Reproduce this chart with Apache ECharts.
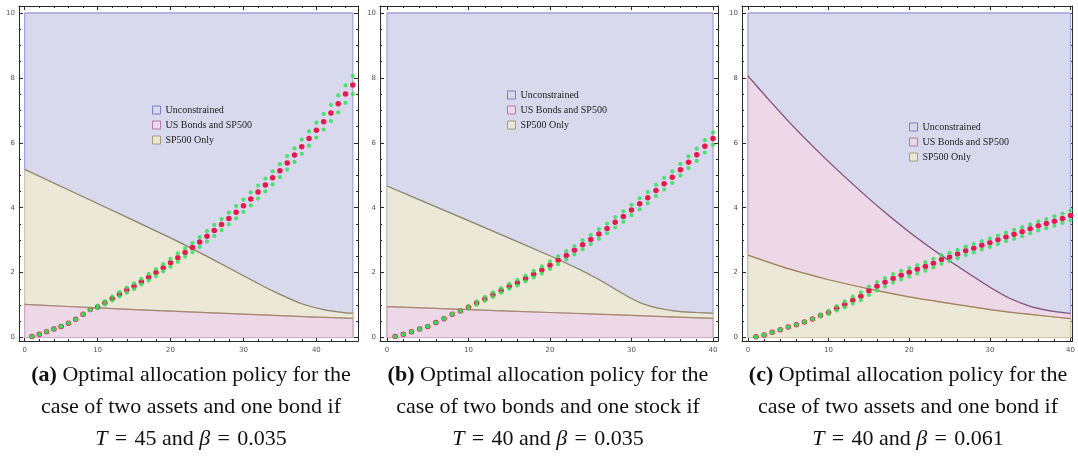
<!DOCTYPE html>
<html><head><meta charset="utf-8">
<script src="https://cdn.jsdelivr.net/npm/echarts@6/dist/echarts.min.js"></script>
<style>html,body{margin:0;padding:0;background:#fff}#c{width:1078px;height:459px}</style>
</head><body><div id="c"></div>
<script>
// ---------- data ----------
const yearsA = [1,2,3,4,5,6,7,8,9,10,11,12,13,14,15,16,17,18,19,20,21,22,23,24,25,26,27,28,29,30,31,32,33,34,35,36,37,38,39,40,41,42,43,44,45];
const yearsBC = [1,2,3,4,5,6,7,8,9,10,11,12,13,14,15,16,17,18,19,20,21,22,23,24,25,26,27,28,29,30,31,32,33,34,35,36,37,38,39,40];

const policyA = [0.03,0.1,0.18,0.26,0.34,0.44,0.56,0.72,0.86,0.94,1.07,1.2,1.33,1.46,1.58,1.72,1.86,2.0,2.15,2.3,2.46,2.62,2.77,2.94,3.12,3.3,3.48,3.67,3.86,4.06,4.27,4.48,4.7,4.92,5.14,5.38,5.62,5.88,6.13,6.39,6.65,6.92,7.2,7.5,7.78];
const upperA = [0.03,0.1,0.18,0.26,0.34,0.44,0.56,0.72,0.88,0.98,1.12,1.26,1.4,1.54,1.67,1.81,1.96,2.11,2.26,2.42,2.59,2.75,2.91,3.09,3.28,3.47,3.65,3.85,4.05,4.25,4.47,4.68,4.9,5.12,5.34,5.59,5.83,6.1,6.35,6.62,6.89,7.17,7.46,7.77,8.06];
const lowerA = [0.03,0.1,0.18,0.26,0.34,0.44,0.56,0.72,0.84,0.9,1.02,1.14,1.26,1.38,1.49,1.63,1.76,1.89,2.04,2.18,2.33,2.49,2.63,2.79,2.96,3.13,3.31,3.49,3.67,3.87,4.07,4.28,4.5,4.72,4.94,5.17,5.41,5.66,5.91,6.16,6.41,6.67,6.94,7.23,7.5];

const policyB = [0.03,0.1,0.18,0.26,0.34,0.46,0.58,0.72,0.82,0.93,1.06,1.19,1.32,1.45,1.58,1.69,1.82,1.95,2.08,2.23,2.38,2.53,2.69,2.86,3.02,3.19,3.36,3.55,3.73,3.93,4.12,4.31,4.53,4.74,4.94,5.17,5.4,5.63,5.89,6.13];
const upperB = [0.03,0.1,0.18,0.26,0.34,0.46,0.58,0.72,0.84,0.97,1.11,1.25,1.39,1.52,1.66,1.78,1.91,2.05,2.19,2.35,2.5,2.66,2.82,3.0,3.16,3.34,3.51,3.71,3.89,4.09,4.29,4.48,4.7,4.92,5.12,5.35,5.58,5.82,6.08,6.32];
const lowerB = [0.03,0.1,0.18,0.26,0.34,0.46,0.58,0.72,0.8,0.89,1.01,1.13,1.25,1.38,1.5,1.6,1.73,1.85,1.97,2.11,2.26,2.4,2.56,2.72,2.88,3.04,3.21,3.39,3.57,3.77,3.95,4.14,4.36,4.56,4.76,4.99,5.22,5.44,5.7,5.94];

const policyC = [0.02,0.08,0.16,0.24,0.32,0.39,0.48,0.57,0.68,0.77,0.9,1.02,1.15,1.27,1.44,1.58,1.7,1.82,1.92,2.01,2.1,2.19,2.29,2.4,2.48,2.57,2.67,2.75,2.84,2.92,3.01,3.1,3.18,3.26,3.35,3.44,3.51,3.58,3.67,3.76];
const upperC = [0.02,0.08,0.16,0.24,0.32,0.39,0.48,0.57,0.71,0.82,0.97,1.11,1.26,1.39,1.57,1.71,1.83,1.95,2.05,2.14,2.23,2.32,2.42,2.53,2.61,2.7,2.8,2.88,2.97,3.05,3.14,3.23,3.32,3.4,3.49,3.58,3.65,3.73,3.82,3.91];
const lowerC = [0.02,0.08,0.16,0.24,0.32,0.39,0.48,0.57,0.65,0.72,0.83,0.93,1.04,1.15,1.31,1.45,1.57,1.69,1.79,1.88,1.97,2.06,2.16,2.27,2.35,2.44,2.54,2.62,2.71,2.79,2.88,2.97,3.04,3.12,3.21,3.3,3.37,3.44,3.53,3.61];

// region boundaries (knots)
const unconstrainedA_t = [0,45], unconstrainedA_v = [10,10];
const sp500A_t = [0,10,20,25,30,33,35,36,37,38,39,40,41,42,43,44,45];
const sp500A_v = [5.18,4.13,3.07,2.5,1.9,1.55,1.33,1.23,1.13,1.04,0.97,0.91,0.86,0.82,0.79,0.76,0.75];
const bondsA_t = [0,10,20,30,40,45];
const bondsA_v = [1.02,0.91,0.81,0.72,0.63,0.59];

const unconstrainedB_t = [0,40], unconstrainedB_v = [10,10];
const sp500B_t = [0,10,20,22,24,25,26,27,28,29,30,31,32,33,34,35,36,37,38,40];
const sp500B_v = [4.67,3.6,2.52,2.29,2.05,1.92,1.79,1.64,1.49,1.34,1.2,1.08,0.99,0.92,0.87,0.83,0.8,0.78,0.77,0.75];
const bondsB_t = [0,10,20,30,40];
const bondsB_v = [0.95,0.86,0.77,0.68,0.59];

const unconstrainedC_t = [0,40], unconstrainedC_v = [10,10];
const bondsC_t = [0,2.5,5,7.5,10,12.5,15,17.5,20,22.5,25,27.5,30,32.5,35,37.5,40];
const bondsC_v = [8.06,7.35,6.67,6.03,5.42,4.84,4.28,3.75,3.25,2.79,2.36,1.95,1.55,1.2,0.96,0.82,0.74];
const sp500C_t = [0,5,10,15,20,25,30,35,40];
const sp500C_v = [2.54,2.12,1.78,1.5,1.25,1.05,0.86,0.71,0.58];

const xMajor = [0,10,20,30,40];
const xMinor = [2,4,6,8,12,14,16,18,22,24,26,28,32,34,36,38,42,44];
const yMajor = [0,2,4,6,8,10];
const yMinor = [0.5,1,1.5,2.5,3,3.5,4.5,5,5.5,6.5,7,7.5,8.5,9,9.5];
const legendNames = ['Unconstrained','US Bonds and SP500','SP500 Only'];

const capLabels = ['(a)','(b)','(c)'];
const capLine1 = ' Optimal allocation policy for the';
const capLine2 = ['case of two assets and one bond if','case of two bonds and one stock if','case of two assets and one bond if'];
const capT = ['45','40','40'];
const capBeta = ['0.035','0.035','0.061'];

// ---------- layout / style ----------
const panels = [
  {left:19, width:339, xmin:-0.78, xmax:45.71, legendLeft:152, legendTop:104, capX:191},
  {left:380, width:338, xmin:-0.859, xmax:40.613, legendLeft:507, legendTop:89, capX:548},
  {left:742, width:335, xmin:-0.734, xmax:40.245, legendLeft:909, legendTop:121, capX:908}
];
const gridTop = 6, gridHeight = 335, ymin = -0.108, ymax = 10.215;
const C = {
  blueFill:'#d9d9ed', blueEdge:'#a2a2d8',
  pinkFill:'#ecd8e6', pinkEdge:'#d2a8c8',
  beigeFill:'#ebe8d8', beigeEdge:'#cfc8a8',
  frame:'#2a2a2a'
};
const capFont = 'Liberation Serif', capSize = 22;
const sp = '\u2004';

const grids=[], xAxes=[], yAxes=[], series=[], legends=[], graphics=[];

function mkX(g, p, pos, vals, len, showLine, showLabel){
  return {type:'value', gridIndex:g, position:pos, min:p.xmin, max:p.xmax,
    axisLine:{show:showLine, onZero:false, lineStyle:{color:C.frame, width:1}},
    axisTick:{show:true, inside:true, length:len, customValues:vals, lineStyle:{color:C.frame, width:1}},
    axisLabel:{show:showLabel, customValues:vals, fontSize:7, color:'#555', margin:6, fontFamily:'DejaVu Sans'},
    splitLine:{show:false}};
}
function mkY(g, pos, vals, len, showLine, showLabel){
  return {type:'value', gridIndex:g, position:pos, min:ymin, max:ymax,
    axisLine:{show:showLine, onZero:false, lineStyle:{color:C.frame, width:1}},
    axisTick:{show:true, inside:true, length:len, customValues:vals, lineStyle:{color:C.frame, width:1}},
    axisLabel:{show:showLabel, customValues:vals, fontSize:7, color:'#555', margin:4, fontFamily:'DejaVu Sans'},
    splitLine:{show:false}};
}
function region(name, g, ts, vs, fill, edge, lineColor, z){
  return {type:'custom', name, xAxisIndex:g*4, yAxisIndex:g*4, z, silent:true,
    itemStyle:{color:fill}, data:[[ts[0],0]],
    renderItem(params, api){
      const top = ts.map((t,i)=>api.coord([t,vs[i]]));
      const poly = [api.coord([ts[0],0])].concat(top, [api.coord([ts[ts.length-1],0])]);
      return {type:'group', children:[
        {type:'polygon', shape:{points:poly}, style:{fill, stroke:edge, lineWidth:1.2}},
        {type:'polyline', shape:{points:top, smooth:0.2}, style:{fill:'none', stroke:lineColor, lineWidth:1.2}}
      ]};
    }};
}
function dots(g, xs, ys, color, size, z, opacity){
  return {type:'scatter', xAxisIndex:g*4, yAxisIndex:g*4, z, silent:true, symbolSize:size,
    itemStyle:{color, opacity}, data: xs.map((x,i)=>[x, ys[i]])};
}

panels.forEach((p,g)=>{
  grids.push({left:p.left, top:gridTop, width:p.width, height:gridHeight, containLabel:false});
  xAxes.push(mkX(g,p,'bottom',xMajor,4,true,true), mkX(g,p,'bottom',xMinor,2,false,false),
             mkX(g,p,'top',xMajor,4,true,false), mkX(g,p,'top',xMinor,2,false,false));
  yAxes.push(mkY(g,'left',yMajor,4,true,true), mkY(g,'left',yMinor,2,false,false),
             mkY(g,'right',yMajor,4,true,false), mkY(g,'right',yMinor,2,false,false));
  legends.push({left:p.legendLeft, top:p.legendTop, orient:'vertical', selectedMode:false,
    itemWidth:8, itemHeight:8, itemGap:3, padding:0, icon:'rect',
    textStyle:{fontFamily:'Liberation Serif', fontSize:10, lineHeight:12, color:'#222'},
    data:[
      {name:legendNames[0], itemStyle:{color:C.blueFill, borderColor:'#7d7dc0', borderWidth:1}},
      {name:legendNames[1], itemStyle:{color:C.pinkFill, borderColor:'#b07aa4', borderWidth:1}},
      {name:legendNames[2], itemStyle:{color:C.beigeFill, borderColor:'#a39c7c', borderWidth:1}}
    ]});
  graphics.push({type:'text', x:p.capX, y:407, z:10, style:{
    text:'{b|'+capLabels[g]+'}{r|'+capLine1+'}\n{r|'+capLine2[g]+'}\n{i|T}{r|'+sp+'='+sp+capT[g]+' and }{i|β}{r|'+sp+'='+sp+capBeta[g]+'}',
    textAlign:'center', textVerticalAlign:'middle', fill:'#111',
    fontFamily:capFont, fontSize:capSize, lineHeight:32,
    rich:{
      b:{fontFamily:capFont, fontSize:capSize, fontWeight:'bold', lineHeight:32, fill:'#111'},
      r:{fontFamily:capFont, fontSize:capSize, lineHeight:32, fill:'#111'},
      i:{fontFamily:capFont, fontSize:capSize, fontStyle:'italic', lineHeight:32, fill:'#111'}
    }}});
});

// panel a
series.push(region(legendNames[0],0,unconstrainedA_t,unconstrainedA_v,C.blueFill,C.blueEdge,C.blueEdge,1));
series.push(region(legendNames[2],0,sp500A_t,sp500A_v,C.beigeFill,C.beigeEdge,'#8c8774',2));
series.push(region(legendNames[1],0,bondsA_t,bondsA_v,C.pinkFill,C.pinkEdge,'#a68a6c',3));
// panel b
series.push(region(legendNames[0],1,unconstrainedB_t,unconstrainedB_v,C.blueFill,C.blueEdge,C.blueEdge,1));
series.push(region(legendNames[2],1,sp500B_t,sp500B_v,C.beigeFill,C.beigeEdge,'#8c8774',2));
series.push(region(legendNames[1],1,bondsB_t,bondsB_v,C.pinkFill,C.pinkEdge,'#a68a6c',3));
// panel c
series.push(region(legendNames[0],2,unconstrainedC_t,unconstrainedC_v,C.blueFill,C.blueEdge,C.blueEdge,1));
series.push(region(legendNames[1],2,bondsC_t,bondsC_v,C.pinkFill,C.pinkEdge,'#7e5580',2));
series.push(region(legendNames[2],2,sp500C_t,sp500C_v,C.beigeFill,C.beigeEdge,'#a47f5d',3));

[[yearsA,policyA,upperA,lowerA],[yearsBC,policyB,upperB,lowerB],[yearsBC,policyC,upperC,lowerC]].forEach((d,g)=>{
  series.push(dots(g,d[0],d[1],'#e5194b',5.5,5,1));
  series.push(dots(g,d[0],d[2],'#2fe055',4.2,6,0.82));
  series.push(dots(g,d[0],d[3],'#2fe055',4.2,6,0.82));
});

const chart = echarts.init(document.getElementById('c'), null, {renderer:'canvas'});
chart.setOption({animation:false, backgroundColor:'#ffffff', grid:grids, xAxis:xAxes, yAxis:yAxes,
  legend:legends, series, graphic:graphics, tooltip:{show:false}});
</script></body></html>
